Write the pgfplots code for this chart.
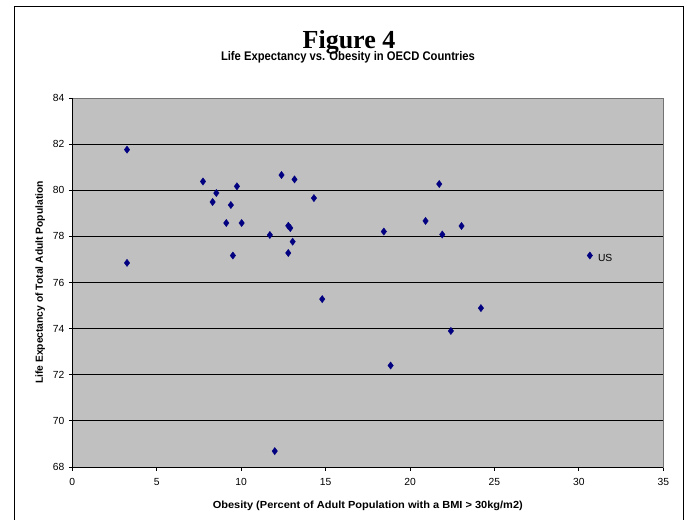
\documentclass[border=0pt]{standalone}
\usepackage{pgfplots}
\pgfplotsset{compat=1.18}
\usepackage{fontspec}
\setmainfont{Liberation Sans}
\newfontfamily\timesfont{Liberation Serif}
\definecolor{plotgray}{HTML}{C0C0C0}
\definecolor{navy}{HTML}{000080}
\begin{document}
\begin{tikzpicture}[x=1pt,y=1pt]
\useasboundingbox (0,0) rectangle (689,520);
% outer frame (bottom edge is cut off in the reference)
\draw[line width=0.9pt] (14.3,0) -- (14.3,513.3) -- (683.3,513.3) -- (683.3,0);
% titles
\node[anchor=base, inner sep=0pt] at (349,471.7) {\timesfont\fontsize{26}{30}\selectfont\bfseries Figure 4};
\node[anchor=base, inner sep=0pt] at (348,459.3) {\resizebox{254pt}{\height}{\fontsize{12.5}{14}\selectfont\bfseries Life Expectancy vs. Obesity in OECD Countries}};
\begin{axis}[
  at={(72.3pt,53pt)}, anchor=south west,
  scale only axis, width=591pt, height=369pt,
  xmin=0, xmax=35, ymin=68, ymax=84,
  xtick={0,5,...,35}, ytick={68,70,...,84},
  axis background/.style={fill=plotgray},
  axis line style={draw=black!55, line width=0.8pt},
  ymajorgrids, grid style={black, line width=0.8pt},
  tick align=outside, major tick length=3.5pt,
  xtick pos=bottom, ytick pos=left,
  tick style={black, line width=0.8pt},
  /pgf/number format/assume math mode=true,
  ticklabel style={font=\fontsize{10.3}{12}\selectfont},
  xticklabel style={yshift=-4.5pt},
  yticklabel style={xshift=-1pt},
  xlabel={\resizebox{310pt}{\height}{Obesity (Percent of Adult Population with a BMI > 30kg/m2)}},
  ylabel={Life Expectancy of Total Adult Population},
  label style={font=\fontsize{10.3}{12}\selectfont\bfseries},
  xlabel style={yshift=-8pt},
  ylabel style={yshift=1pt},
  clip=false,
]
\addplot[only marks, mark=diamond*, mark size=3.6pt, mark options={draw=navy, fill=navy}] coordinates {
(3.24,81.76)
(3.24,76.85)
(7.74,80.38)
(8.53,79.88)
(8.31,79.49)
(9.39,79.36)
(9.75,80.17)
(9.12,78.58)
(10.03,78.58)
(9.51,77.17)
(11.70,78.06)
(12.39,80.66)
(13.16,80.47)
(12.79,78.46)
(12.91,78.36)
(13.05,77.77)
(12.79,77.28)
(14.31,79.66)
(14.80,75.28)
(11.99,68.69)
(18.45,78.21)
(18.85,72.40)
(20.92,78.67)
(21.73,80.27)
(21.91,78.08)
(22.42,73.90)
(23.05,78.45)
(24.20,74.89)
(30.65,77.17)
};
\node[anchor=west, inner sep=0pt, font=\fontsize{10.3}{12}\selectfont] at (axis cs:30.65,77.17) [xshift=8pt, yshift=-2pt] {US};
\draw[black, line width=0.8pt] (axis cs:0,84) -- (axis cs:0,68) -- (axis cs:35,68);
\end{axis}
\end{tikzpicture}
\end{document}
